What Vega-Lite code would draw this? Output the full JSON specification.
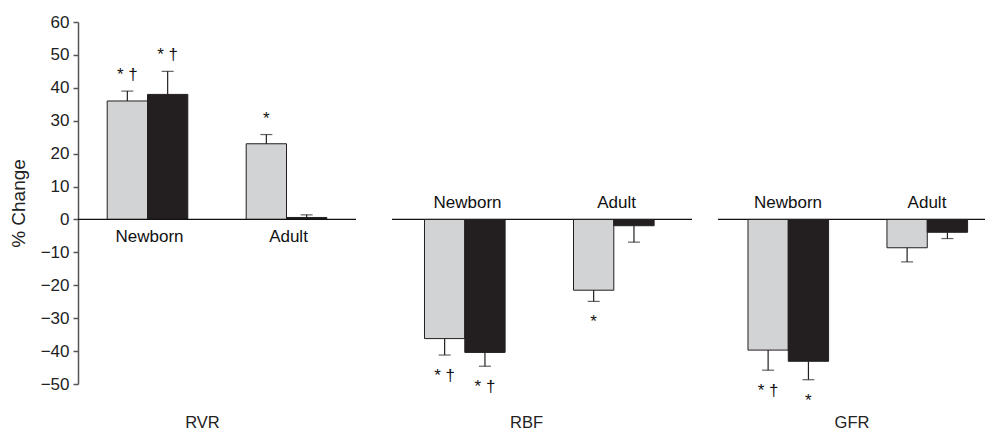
{
  "$schema": "https://vega.github.io/schema/vega-lite/v6.json",
  "padding": {"left": 9, "top": 13, "right": 0, "bottom": 0},
  "background": "white",
  "datasets": {
    "bars": [
      {"panel": "RVR", "age": "Newborn", "group": "light", "pct": 36, "errEnd": 39, "sig": "* †"},
      {"panel": "RVR", "age": "Newborn", "group": "dark", "pct": 38, "errEnd": 45, "sig": "* †"},
      {"panel": "RVR", "age": "Adult", "group": "light", "pct": 23, "errEnd": 25.8, "sig": "*"},
      {"panel": "RVR", "age": "Adult", "group": "dark", "pct": 0.6, "errEnd": 1.4, "sig": ""},
      {"panel": "RBF", "age": "Newborn", "group": "light", "pct": -36.2, "errEnd": -41.2, "sig": "* †"},
      {"panel": "RBF", "age": "Newborn", "group": "dark", "pct": -40.4, "errEnd": -44.6, "sig": "* †"},
      {"panel": "RBF", "age": "Adult", "group": "light", "pct": -21.5, "errEnd": -24.9, "sig": "*"},
      {"panel": "RBF", "age": "Adult", "group": "dark", "pct": -1.9, "errEnd": -6.9, "sig": ""},
      {"panel": "GFR", "age": "Newborn", "group": "light", "pct": -39.7, "errEnd": -45.8, "sig": "* †"},
      {"panel": "GFR", "age": "Newborn", "group": "dark", "pct": -43.1, "errEnd": -48.7, "sig": "*"},
      {"panel": "GFR", "age": "Adult", "group": "light", "pct": -8.6, "errEnd": -12.9, "sig": ""},
      {"panel": "GFR", "age": "Adult", "group": "dark", "pct": -3.9, "errEnd": -5.8, "sig": ""}
    ]
  },
  "config": {
    "view": {"stroke": null},
    "font": "Liberation Sans",
    "axis": {"labelOverlap": false},
    "axisY": {"labelOverlap": false, "labelBound": false, "grid": false, "domainColor": "#555555", "domainWidth": 1.5, "tickColor": "#555555", "tickWidth": 1.5, "tickSize": 5, "labelFont": "Liberation Sans", "labelFontSize": 17, "labelColor": "#222222", "labelPadding": 4, "titleFont": "Liberation Sans", "titleFontSize": 19, "titleFontWeight": "normal", "titleColor": "#222222", "titlePadding": 12},
    "axisX": {"labels": false, "ticks": false, "domain": false, "grid": false, "titlePadding": 30, "titleFont": "Liberation Sans", "titleFontSize": 16.5, "titleFontWeight": "normal", "titleColor": "#222222"}
  },
  "bounds": "flush",
  "spacing": 36,
  "hconcat": [
    {
      "width": 278, "height": 362,
      "layer": [
        {
          "data": {"name": "bars"},
          "transform": [{"filter": "datum.panel === 'RVR'"}],
          "encoding": {
            "x": {"field": "age", "type": "nominal", "sort": ["Newborn", "Adult"], "scale": {"paddingInner": 0.42, "paddingOuter": 0.21}, "axis": {"title": "RVR", "titleX": 124}},
            "xOffset": {"field": "group", "type": "nominal", "sort": ["light", "dark"], "scale": {"paddingInner": 0, "paddingOuter": 0}}
          },
          "layer": [
            {
              "mark": {"type": "bar", "stroke": "#231f20", "strokeWidth": 1},
              "encoding": {
                "y": {"field": "pct", "type": "quantitative", "scale": {"domain": [-50, 60], "nice": false}, "axis": {"title": "% Change", "values": [-50,-40,-30,-20,-10,0,10,20,30,40,50,60], "tickCount": 12}},
                "color": {"field": "group", "type": "nominal", "scale": {"domain": ["light", "dark"], "range": ["#d1d3d4", "#231f20"]}, "legend": null}
              }
            },
            {
              "mark": {"type": "rule", "color": "#231f20", "strokeWidth": 1.2},
              "encoding": {"y": {"field": "pct", "type": "quantitative"}, "y2": {"field": "errEnd"}}
            },
            {
              "mark": {"type": "tick", "color": "#231f20", "size": 12, "thickness": 1.2},
              "encoding": {"y": {"field": "errEnd", "type": "quantitative"}}
            },
            {
              "mark": {"type": "text", "fontSize": 17, "baseline": "alphabetic", "dy": -11, "color": "#111111"},
              "encoding": {"y": {"field": "errEnd", "type": "quantitative"}, "text": {"field": "sig"}}
            }
          ]
        },
        {
          "data": {"values": [{}]},
          "mark": {"type": "rule", "color": "#111111", "strokeWidth": 1.2},
          "encoding": {"y": {"datum": 0, "type": "quantitative"}}
        },
        {
          "data": {"name": "bars"},
          "transform": [{"filter": "datum.panel === 'RVR' && datum.group === 'light'"}],
          "mark": {"type": "text", "fontSize": 17, "baseline": "middle", "dy": 18, "dx": 2, "color": "#111111"},
          "encoding": {
            "x": {"field": "age", "type": "nominal", "sort": ["Newborn", "Adult"], "scale": {"paddingInner": 0.42, "paddingOuter": 0.21}, "axis": {"title": "RVR", "titleX": 124}},
            "y": {"datum": 0, "type": "quantitative"},
            "text": {"field": "age"}
          }
        }
      ]
    },
    {
      "bounds": "flush",
      "spacing": 26,
      "hconcat": [
        {
          "width": 300, "height": 362,
          "layer": [
            {
              "data": {"values": [{}]},
              "mark": {"type": "rule", "color": "#111111", "strokeWidth": 1.2},
              "encoding": {"y": {"datum": 0, "type": "quantitative", "scale": {"domain": [-50, 60], "nice": false}, "axis": null}}
            },
            {
              "data": {"name": "bars"},
              "transform": [{"filter": "datum.panel === 'RBF'"}],
              "encoding": {
                "x": {"field": "age", "type": "nominal", "sort": ["Newborn", "Adult"], "scale": {"paddingInner": 0.4228, "paddingOuter": 0.218}, "axis": {"title": "RBF", "titleX": 134}},
                "xOffset": {"field": "group", "type": "nominal", "sort": ["light", "dark"], "scale": {"paddingInner": 0, "paddingOuter": 0}}
              },
              "layer": [
                {
                  "mark": {"type": "bar", "stroke": "#231f20", "strokeWidth": 1},
                  "encoding": {
                    "y": {"field": "pct", "type": "quantitative", "scale": {"domain": [-50, 60], "nice": false}, "axis": null},
                    "color": {"field": "group", "type": "nominal", "scale": {"domain": ["light", "dark"], "range": ["#d1d3d4", "#231f20"]}, "legend": null}
                  }
                },
                {
                  "mark": {"type": "rule", "color": "#231f20", "strokeWidth": 1.2},
                  "encoding": {"y": {"field": "pct", "type": "quantitative", "axis": null}, "y2": {"field": "errEnd"}}
                },
                {
                  "mark": {"type": "tick", "color": "#231f20", "size": 12, "thickness": 1.2},
                  "encoding": {"y": {"field": "errEnd", "type": "quantitative", "axis": null}}
                },
                {
                  "mark": {"type": "text", "fontSize": 17, "baseline": "top", "dy": 13, "color": "#111111"},
                  "encoding": {"y": {"field": "errEnd", "type": "quantitative", "axis": null}, "text": {"field": "sig"}}
                }
              ]
            },
            {
              "data": {"name": "bars"},
              "transform": [{"filter": "datum.panel === 'RBF' && datum.group === 'light'"}],
              "mark": {"type": "text", "fontSize": 17, "baseline": "middle", "dy": -16, "color": "#111111"},
              "encoding": {
                "x": {"field": "age", "type": "nominal", "sort": ["Newborn", "Adult"], "scale": {"paddingInner": 0.4228, "paddingOuter": 0.218}, "axis": {"title": "RBF", "titleX": 134}},
                "y": {"datum": 0, "type": "quantitative", "axis": null},
                "text": {"field": "age"}
              }
            }
          ]
        },
        {
          "width": 267, "height": 362,
          "layer": [
            {
              "data": {"values": [{}]},
              "mark": {"type": "rule", "color": "#111111", "strokeWidth": 1.2},
              "encoding": {"y": {"datum": 0, "type": "quantitative", "scale": {"domain": [-50, 60], "nice": false}, "axis": null}}
            },
            {
              "data": {"name": "bars"},
              "transform": [{"filter": "datum.panel === 'GFR'"}],
              "encoding": {
                "x": {"field": "age", "type": "nominal", "sort": ["Newborn", "Adult"], "scale": {"paddingInner": 0.424, "paddingOuter": 0.1725, "align": 0.625}, "axis": {"title": "GFR"}},
                "xOffset": {"field": "group", "type": "nominal", "sort": ["light", "dark"], "scale": {"paddingInner": 0, "paddingOuter": 0}}
              },
              "layer": [
                {
                  "mark": {"type": "bar", "stroke": "#231f20", "strokeWidth": 1},
                  "encoding": {
                    "y": {"field": "pct", "type": "quantitative", "scale": {"domain": [-50, 60], "nice": false}, "axis": null},
                    "color": {"field": "group", "type": "nominal", "scale": {"domain": ["light", "dark"], "range": ["#d1d3d4", "#231f20"]}, "legend": null}
                  }
                },
                {
                  "mark": {"type": "rule", "color": "#231f20", "strokeWidth": 1.2},
                  "encoding": {"y": {"field": "pct", "type": "quantitative", "axis": null}, "y2": {"field": "errEnd"}}
                },
                {
                  "mark": {"type": "tick", "color": "#231f20", "size": 12, "thickness": 1.2},
                  "encoding": {"y": {"field": "errEnd", "type": "quantitative", "axis": null}}
                },
                {
                  "mark": {"type": "text", "fontSize": 17, "baseline": "top", "dy": 13, "color": "#111111"},
                  "encoding": {"y": {"field": "errEnd", "type": "quantitative", "axis": null}, "text": {"field": "sig"}}
                }
              ]
            },
            {
              "data": {"name": "bars"},
              "transform": [{"filter": "datum.panel === 'GFR' && datum.group === 'light'"}],
              "mark": {"type": "text", "fontSize": 17, "baseline": "middle", "dy": -16, "color": "#111111"},
              "encoding": {
                "x": {"field": "age", "type": "nominal", "sort": ["Newborn", "Adult"], "scale": {"paddingInner": 0.424, "paddingOuter": 0.1725, "align": 0.625}, "axis": {"title": "GFR"}},
                "y": {"datum": 0, "type": "quantitative", "axis": null},
                "text": {"field": "age"}
              }
            }
          ]
        }
      ]
    }
  ]
}
